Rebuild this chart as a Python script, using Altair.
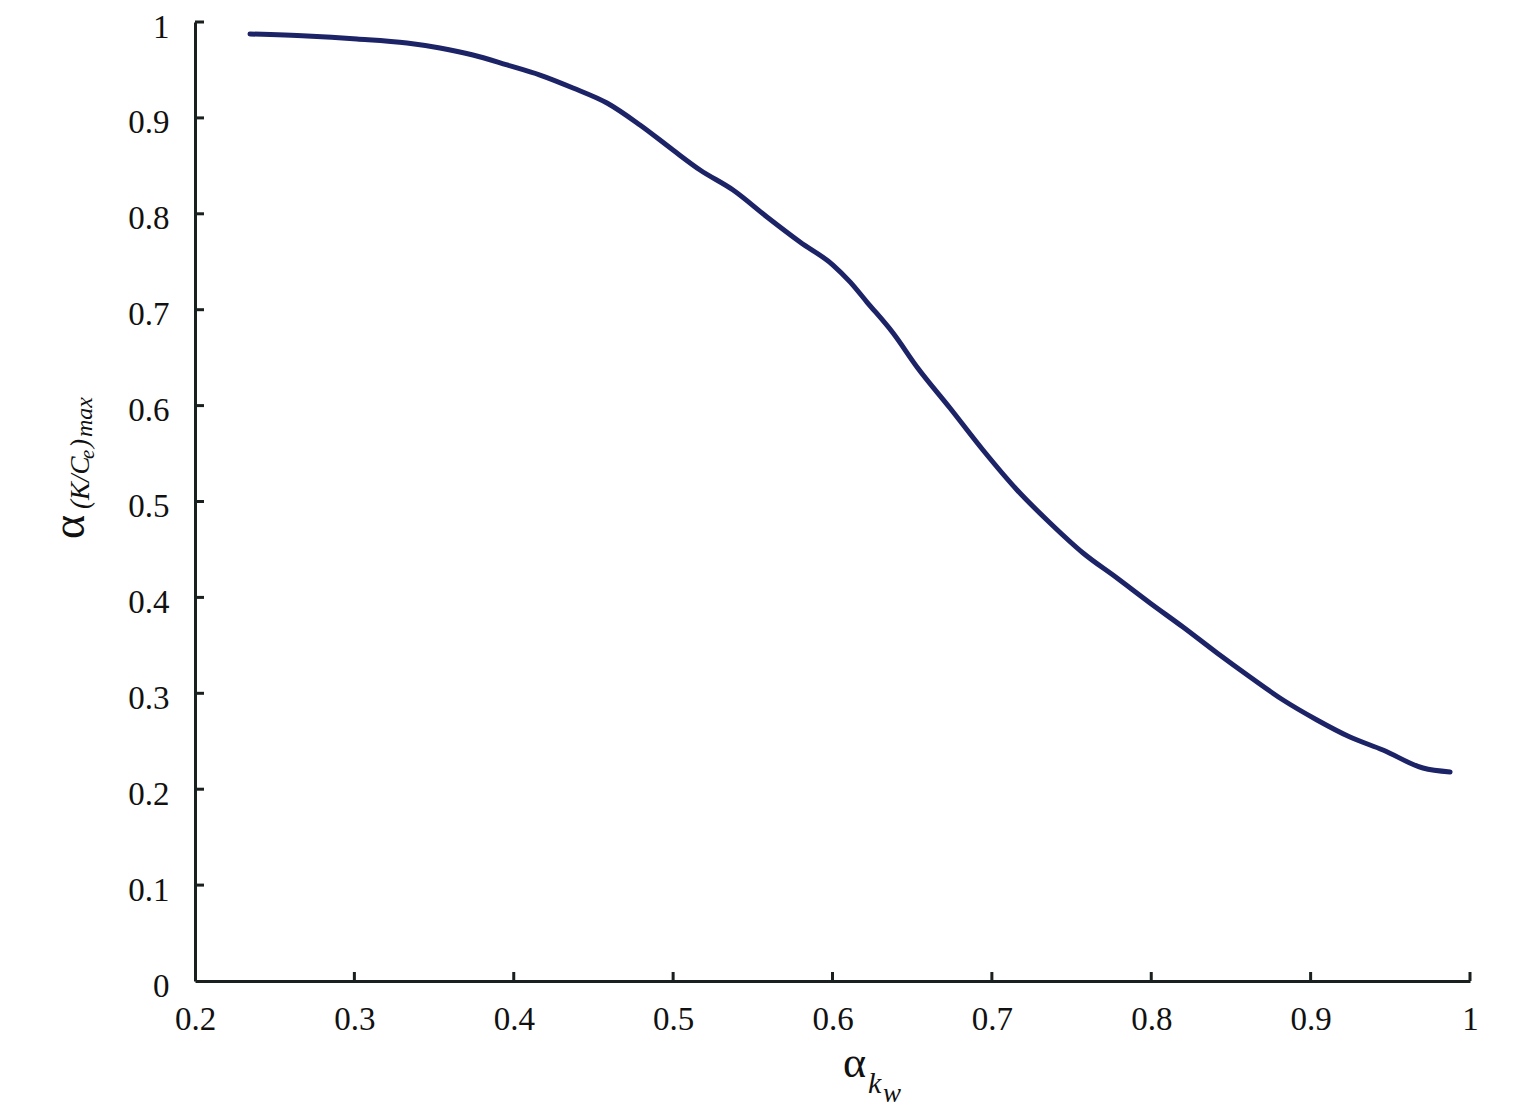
import altair as alt
import pandas as pd

# Curve values
x_vals = [0.2345, 0.2703, 0.3016, 0.3330, 0.3537, 0.3744, 0.3958, 0.4165, 0.4372,
          0.4585, 0.4792, 0.4999, 0.5169, 0.5376, 0.5589, 0.5796, 0.6003, 0.6110,
          0.6216, 0.6380, 0.6530, 0.6737, 0.6944, 0.7158, 0.7365, 0.7572, 0.7785,
          0.7992, 0.8199, 0.8413, 0.8620, 0.8827, 0.9040, 0.9247, 0.9454, 0.9705,
          0.9875]
y_vals = [0.9875, 0.9854, 0.9823, 0.9781, 0.9729, 0.9656, 0.9552, 0.9447, 0.9312,
          0.9155, 0.8926, 0.8665, 0.8457, 0.8248, 0.7967, 0.7706, 0.7466, 0.7290,
          0.7080, 0.6757, 0.6403, 0.5975, 0.5537, 0.5120, 0.4776, 0.4463, 0.4202,
          0.3942, 0.3691, 0.3420, 0.3170, 0.2930, 0.2722, 0.2544, 0.2409, 0.2221,
          0.2179]

x_ticks = [0.2, 0.3, 0.4, 0.5, 0.6, 0.7, 0.8, 0.9, 1.0]
y_ticks = [0, 0.1, 0.2, 0.3, 0.4, 0.5, 0.6, 0.7, 0.8, 0.9, 1.0]
x_tick_labels = ["0.2", "0.3", "0.4", "0.5", "0.6", "0.7", "0.8", "0.9", "1"]
y_tick_labels = ["0", "0.1", "0.2", "0.3", "0.4", "0.5", "0.6", "0.7", "0.8", "0.9", "1"]

W, H = 1275, 959
FONT = "Liberation Serif"
AXIS_COLOR = "#1a1f1f"
LINE_COLOR = "#1c2366"

df = pd.DataFrame({"x": x_vals, "y": y_vals})

x_label_expr = "datum.value == 1 ? '1' : format(datum.value, '.1f')"
y_label_expr = "datum.value == 0 ? '0' : (datum.value == 1 ? '1' : format(datum.value, '.1f'))"

xscale = alt.Scale(domain=[0.2, 1.0], nice=False, zero=False)
yscale = alt.Scale(domain=[0, 1.0], nice=False, zero=False)

line = alt.Chart(df).mark_line(color=LINE_COLOR, strokeWidth=5, strokeJoin="round", strokeCap="round",
                               interpolate="monotone").encode(
    x=alt.X("x:Q", scale=xscale,
            axis=alt.Axis(values=x_ticks, labelExpr=x_label_expr, title=None, ticks=False,
                          domainColor=AXIS_COLOR, domainWidth=3, labelFont=FONT, labelFontSize=33,
                          labelColor="#111", labelPadding=22, labelFlush=False, labelOverlap=False,
                          labelBound=False, grid=False)),
    y=alt.Y("y:Q", scale=yscale,
            axis=alt.Axis(values=y_ticks, labelExpr=y_label_expr, title=None, ticks=False,
                          domainColor=AXIS_COLOR, domainWidth=3, labelFont=FONT, labelFontSize=33,
                          labelColor="#111", labelPadding=26, labelFlush=False, labelOverlap=False,
                          labelBound=False, labelOffset=5, grid=False)),
)

xt = alt.Chart(pd.DataFrame({"x": x_ticks[1:]})).mark_rule(color=AXIS_COLOR, strokeWidth=3).encode(
    x=alt.X("x:Q", scale=xscale), y=alt.value(H), y2=alt.value(H - 9))
yt = alt.Chart(pd.DataFrame({"y": y_ticks[1:]})).mark_rule(color=AXIS_COLOR, strokeWidth=3).encode(
    y=alt.Y("y:Q", scale=yscale), x=alt.value(0), x2=alt.value(9))


def txt(s, px, py, size, italic=False, angle=0):
    return alt.Chart(pd.DataFrame({"t": [s]})).mark_text(
        font=FONT, fontSize=size, fontStyle="italic" if italic else "normal",
        align="left", baseline="alphabetic", angle=angle, color="#111"
    ).encode(text="t:N", x=alt.value(px - 195), y=alt.value(py - 22))


# x axis title: α_{k_w}
xtitle = [
    txt("α", 843, 1077, 44),
    txt("k", 868, 1093, 30, italic=True),
    txt("w", 883, 1102, 27, italic=True),
]
# y axis title: α_{(K/C_e)max}, rotated
ytitle = [
    txt("α", 84, 539, 46, angle=270),
    txt("(K/C", 89, 509, 27, italic=True, angle=270),
    txt("e", 94, 459, 21, italic=True, angle=270),
    txt(")", 89, 448, 27, italic=True, angle=270),
    txt("max", 92, 437, 24, italic=True, angle=270),
]

chart = alt.layer(line, xt, yt, *xtitle, *ytitle).properties(
    width=W, height=H,
    background="white",
    autosize=alt.AutoSizeParams(type="none"),
    padding={"left": 187, "top": 14, "right": 57, "bottom": 127},
).configure_view(stroke="transparent", strokeWidth=0)

chart.save("out.html", embed_options={"renderer": "svg", "actions": False})
